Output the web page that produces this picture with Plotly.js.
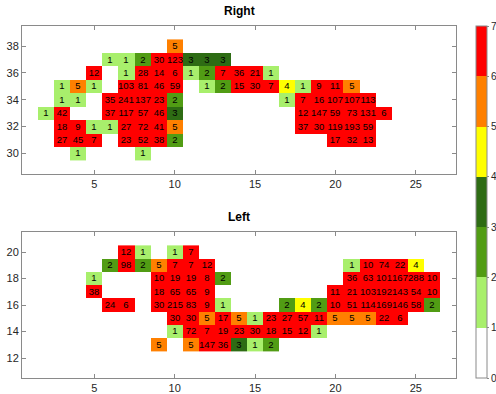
<!DOCTYPE html>
<html>
<head>
<meta charset="utf-8">
<script src="https://cdn.plot.ly/plotly-3.0.1.min.js"></script>
<style>html,body{margin:0;padding:0;background:#fff;}#chart{width:496px;height:394px;}</style>
</head>
<body>
<div id="chart"></div>
<script>
// x columns shared by both panels
const xCols = Array.from({length: 27}, (_, i) => i + 1);

// Right panel rows: [first x, values...] (null = empty cell)
const rightY = [30, 31, 32, 33, 34, 35, 36, 37, 38];
const right30 = [4, 1, null, null, null, 1];
const right31 = [3, 27, 45, 7, null, 23, 52, 38, 2, null, null, null, null, null, null, null, null, null, 17, 32, 13];
const right32 = [3, 18, 9, 1, 1, 27, 72, 41, 5, null, null, null, null, null, null, null, 37, 30, 119, 193, 59];
const right33 = [2, 1, 42, null, null, 37, 117, 57, 46, 3, null, null, null, null, null, null, null, 12, 147, 59, 73, 131, 6];
const right34 = [3, 1, 1, null, 35, 241, 137, 23, 2, null, null, null, null, null, null, 1, 7, 16, 107, 107, 113];
const right35 = [3, 1, 5, 1, null, 103, 81, 46, 59, null, 1, 2, 15, 30, 7, 4, 1, 9, 11, 5];
const right36 = [5, 12, null, 1, 28, 14, 6, 1, 2, 7, 36, 21, 1];
const right37 = [6, 1, 1, 2, 30, 123, 3, 3, 3];
const right38 = [10, 5];

// Left panel rows
const leftY = [13, 14, 15, 16, 17, 18, 19, 20];
const left13 = [9, 5, null, 5, 147, 36, 3, 1, 2];
const left14 = [10, 1, 72, 7, 19, 23, 30, 18, 15, 12, 1];
const left15 = [10, 30, 30, 5, 17, 5, 1, 23, 27, 57, 11, 5, 5, 5, 22, 6];
const left16 = [6, 24, 6, null, 30, 215, 83, 9, 1, null, null, null, 2, 4, 2, 10, 51, 114, 169, 146, 58, 2];
const left17 = [5, 38, null, null, null, 18, 65, 65, 9, null, null, null, null, null, null, null, 11, 21, 103, 192, 143, 54, 10];
const left18 = [5, 1, null, null, null, 10, 19, 19, 8, 2, null, null, null, null, null, null, null, 36, 63, 101, 167, 288, 10];
const left19 = [6, 2, 98, 2, 5, 7, 7, 12, null, null, null, null, null, null, null, null, 1, 10, 74, 22, 4];
const left20 = [7, 12, 1, null, 1, 7];

const colorTicks = [0, 1, 2, 3, 4, 5, 6, 7];
const binColors = ['#ffffff', '#a8ef6c', '#519c14', '#2e6c14', '#ffff00', '#ff8000', '#ff0000'];

function buildGrid(rows) {
  const z = [], t = [];
  rows.forEach(r => {
    const zr = xCols.map(() => null), tr = xCols.map(() => '');
    const start = r[0];
    r.slice(1).forEach((v, i) => {
      const idx = start + i - 1;
      if (v !== null) { zr[idx] = v; tr[idx] = String(v); }
    });
    z.push(zr); t.push(tr);
  });
  return {z, t};
}

const R = buildGrid([right30, right31, right32, right33, right34, right35, right36, right37, right38]);
const L = buildGrid([left13, left14, left15, left16, left17, left18, left19, left20]);

const n = binColors.length;
const eps = 1e-4;
const cs = [];
binColors.forEach((c, i) => {
  cs.push([i / n, c]);
  cs.push([i === n - 1 ? 1 : (i + 1) / n - eps, c]);
});

const textFont = {family: 'Liberation Sans, Arial, sans-serif', size: 9.5, color: '#000'};

const traces = [
  {type: 'heatmap', x: xCols, y: rightY, z: R.z, text: R.t, texttemplate: '%{text}',
   textfont: textFont, coloraxis: 'coloraxis', xaxis: 'x', yaxis: 'y', hoverinfo: 'skip'},
  {type: 'heatmap', x: xCols, y: leftY, z: L.z, text: L.t, texttemplate: '%{text}',
   textfont: textFont, coloraxis: 'coloraxis', xaxis: 'x2', yaxis: 'y2', hoverinfo: 'skip'}
];

const axCol = '#8a8a8a';
const tickFont = {family: 'Liberation Sans, Arial, sans-serif', size: 11, color: '#262626'};
function xAx(anchor) {
  return {anchor: anchor, range: [0.5, 27.5], tickvals: [5, 10, 15, 20, 25], showline: true, mirror: 'ticks',
    linecolor: axCol, linewidth: 1, ticks: 'inside', ticklen: 4, tickcolor: axCol, showgrid: false,
    zeroline: false, tickfont: tickFont, fixedrange: true, automargin: false};
}
function yAx(anchor, range, vals, domain) {
  return {anchor: anchor, domain: domain, range: range, tickvals: vals, showline: true, mirror: 'ticks',
    linecolor: axCol, linewidth: 1, ticks: 'inside', ticklen: 4, tickcolor: axCol, showgrid: false,
    zeroline: false, tickfont: tickFont, fixedrange: true, automargin: false};
}

const layout = {
  width: 496, height: 394,
  margin: {l: 22, r: 40, t: 26, b: 16, autoexpand: false},
  paper_bgcolor: '#fff', plot_bgcolor: '#fff',
  showlegend: false,
  xaxis: xAx('y'),
  yaxis: yAx('x', [28.5, 39.5], [30, 32, 34, 36, 38], [0.5807, 1]),
  xaxis2: xAx('y2'),
  yaxis2: yAx('x2', [10.5, 21.5], [12, 14, 16, 18, 20], [0, 0.4144]),
  coloraxis: {
    cmin: 0, cmax: 7, colorscale: cs,
    colorbar: {
      x: 1.046, xanchor: 'left', xpad: 0, ypad: 0, thickness: 11, len: 1, lenmode: 'fraction',
      y: 0.5, yanchor: 'middle', tickvals: colorTicks, ticks: 'outside', ticklen: 2, tickcolor: axCol,
      outlinecolor: axCol, outlinewidth: 1,
      tickfont: {family: 'Liberation Sans, Arial, sans-serif', size: 10, color: '#262626'}
    }
  },
  annotations: [
    {text: '<b>Right</b>', xref: 'paper', yref: 'paper', x: 0.5, y: 1, xanchor: 'center', yanchor: 'bottom',
     yshift: 6, showarrow: false, font: {family: 'Liberation Sans, Arial, sans-serif', size: 12, color: '#000'}},
    {text: '<b>Left</b>', xref: 'paper', yref: 'paper', x: 0.5, y: 0.4144, xanchor: 'center', yanchor: 'bottom',
     yshift: 6, showarrow: false, font: {family: 'Liberation Sans, Arial, sans-serif', size: 12, color: '#000'}}
  ]
};

Plotly.newPlot('chart', traces, layout, {displayModeBar: false, staticPlot: true});
</script>
</body>
</html>
